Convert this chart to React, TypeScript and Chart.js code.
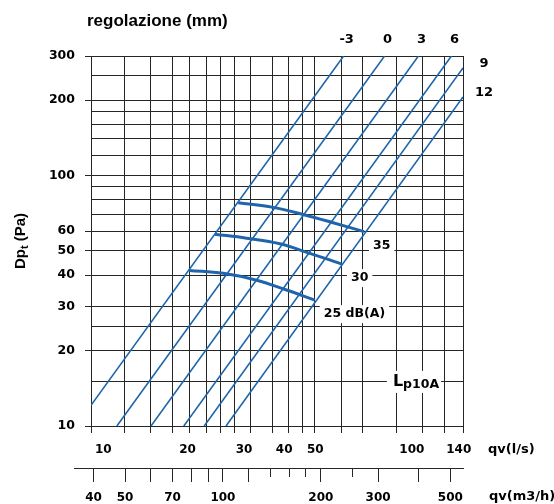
import React, { useEffect, useRef } from 'react';
import { Chart, registerables } from 'chart.js';

Chart.register(...registerables);

// ---- Regulation lines (mm): end points (qv in m3/h, Dpt in Pa)
const regLabels = ['-3', '0', '3', '6', '9', '12'];
const regQStart = [39.3, 47.2, 60.1, 75.8, 87.6, 102.2];
const regPStart = [12.1, 10, 10, 10, 10, 10];
const regQEnd = [235, 314, 399, 504, 547, 547];
const regPEnd = [300, 300, 300, 300, 269, 206];

// ---- Noise curves Lp10A (qv in m3/h, Dpt in Pa)
const noiseLabels = ['35', '30', '25 dB(A)'];
const noise35Q = [111.4, 142.7, 178.5, 218, 271.4];
const noise35P = [77.9, 74.6, 69.6, 64.8, 59.7];
const noise30Q = [94.5, 118.2, 149.6, 184.9, 232.3];
const noise30P = [58.3, 56.2, 53.4, 48.9, 44.3];
const noise25Q = [78.8, 100.2, 126.9, 156.8, 191.6];
const noise25P = [41.8, 40.7, 38.2, 34.9, 31.8];
const noiseQ = [noise35Q, noise30Q, noise25Q];
const noiseP = [noise35P, noise30P, noise25P];

// ---- Axes
const qvMin = 39.3; // m3/h at left edge
const qvMax = 547; // m3/h at right edge
const lsMin = 10; // l/s at left edge (upper scale)
const lsMax = 144.3; // l/s at right edge (upper scale)
const yMin = 10;
const yMax = 300;
const xGrid = [39.3, 49.8, 60, 69.9, 79.2, 88.7, 98.1, 108.3, 121.9, 141.9, 158.5, 176, 190.6, 231, 268.5, 341.5, 411.7, 480, 547];
const yGrid = [10, 15, 20, 25, 30, 40, 50, 60, 70, 80, 90, 100, 120, 140, 160, 180, 200, 250, 300];
const yLabels = [10, 20, 30, 40, 50, 60, 100, 200, 300];
const lsLabels = [10, 20, 30, 40, 50, 100, 140];
const m3Ticks = [40, 50, 60, 70, 80, 90, 100, 120, 140, 160, 180, 200, 250, 300, 400, 500];
const m3Labels = [40, 50, 70, 100, 200, 300, 500];
const m3ShortTicks = [140, 160, 180, 250];
const lpAnchorQ = 333;
const lpAnchorP = 15;

const BLUE = '#1f65ab';
const GRID = '#262626';
const NUM_FONT = '"DejaVu Sans", Verdana, sans-serif';
const TITLE_FONT = '"Liberation Sans", Arial, sans-serif';

const annotPlugin = {
  id: 'annot',
  afterDraw(chart: any) {
    const { ctx, chartArea: ca, scales } = chart;
    const xs = scales.x;
    const ys = scales.y;
    const xls = scales.xls;
    const xm3 = scales.xm3;
    ctx.save();
    ctx.fillStyle = '#000';

    // title
    ctx.font = `bold 17px ${TITLE_FONT}`;
    ctx.textAlign = 'left';
    ctx.textBaseline = 'middle';
    ctx.fillText('regolazione (mm)', ca.left - 4, ca.top - 35);

    // y title with subscript
    ctx.save();
    ctx.translate(20, (ca.top + ca.bottom) / 2);
    ctx.rotate(-Math.PI / 2);
    ctx.textBaseline = 'alphabetic';
    const f1 = `bold 15px ${TITLE_FONT}`;
    const f2 = `bold 11px ${TITLE_FONT}`;
    ctx.font = f1;
    const w1 = ctx.measureText('Dp').width;
    const w3 = ctx.measureText(' (Pa)').width;
    ctx.font = f2;
    const w2 = ctx.measureText('t').width;
    const x0 = -(w1 + w2 + w3) / 2;
    ctx.font = f1;
    ctx.fillText('Dp', x0, 5);
    ctx.font = f2;
    ctx.fillText('t', x0 + w1, 8);
    ctx.font = f1;
    ctx.fillText(' (Pa)', x0 + w1 + w2, 5);
    ctx.restore();

    // l/s labels
    ctx.font = `bold 12px ${NUM_FONT}`;
    ctx.textAlign = 'left';
    ctx.textBaseline = 'middle';
    lsLabels.forEach((v) => {
      const px = xls.getPixelForValue(v);
      const t = String(v);
      const w = ctx.measureText(t).width;
      const left = Math.max(px - w / 2, ca.left + 4);
      ctx.fillText(t, left, xls.top + 16.5);
    });
    ctx.font = `bold 13px ${NUM_FONT}`;
    ctx.fillText('qv(l/s)', ca.right + 25, xls.top + 16.5);
    ctx.fillText('qv(m3/h)', ca.right + 26, xm3.top + 28.5);

    // extension of lower axis line
    ctx.strokeStyle = GRID;
    ctx.lineWidth = 1;
    ctx.beginPath();
    ctx.moveTo(ca.left - 17, Math.round(xm3.top) + 0.5);
    ctx.lineTo(ca.left, Math.round(xm3.top) + 0.5);
    ctx.stroke();

    // regulation labels
    ctx.font = `bold 13px ${NUM_FONT}`;
    ctx.textAlign = 'center';
    regLabels.forEach((lab, i) => {
      const meta = chart.getDatasetMeta(i);
      const pt = meta.data[meta.data.length - 1];
      if (regPEnd[i] >= yMax) {
        ctx.fillText(lab, pt.x + 3, ca.top - 16);
      } else {
        ctx.fillText(lab, ca.right + 21, pt.y - 4);
      }
    });

    // noise labels with white boxes
    ctx.font = `bold 12.5px ${NUM_FONT}`;
    ctx.textAlign = 'left';
    noiseLabels.forEach((lab, k) => {
      const meta = chart.getDatasetMeta(regLabels.length + k);
      const pt = meta.data[meta.data.length - 1];
      const left = pt.x + 9;
      const mid = pt.y + 14;
      const w = ctx.measureText(lab).width;
      ctx.fillStyle = '#fff';
      ctx.fillRect(left - 4, mid - 9, w + 8, 18);
      ctx.fillStyle = '#000';
      ctx.fillText(lab, left, mid);
    });

    // Lp10A label
    const lx = xs.getPixelForValue(lpAnchorQ);
    const ly = ys.getPixelForValue(lpAnchorP);
    const fL = `bold 16px ${NUM_FONT}`;
    const fS = `bold 12.5px ${NUM_FONT}`;
    ctx.font = fL;
    const wL = ctx.measureText('L').width;
    ctx.font = fS;
    const wS = ctx.measureText('p10A').width;
    ctx.fillStyle = '#fff';
    ctx.fillRect(lx - 6, ly - 11, wL + wS + 8, 22);
    ctx.fillStyle = '#000';
    ctx.textBaseline = 'alphabetic';
    ctx.font = fL;
    ctx.fillText('L', lx, ly + 4);
    ctx.font = fS;
    ctx.fillText('p10A', lx + wL, ly + 6.5);

    ctx.restore();
  },
};

export default function App() {
  const ref = useRef<HTMLCanvasElement | null>(null);

  useEffect(() => {
    if (!ref.current) return;
    Chart.defaults.font.family = NUM_FONT;

    const regSets = regLabels.map((lab, i) => ({
      label: 'regolazione ' + lab,
      data: [
        { x: regQStart[i], y: regPStart[i] },
        { x: regQEnd[i], y: regPEnd[i] },
      ],
      borderColor: BLUE,
      borderWidth: 1.6,
      pointRadius: 0,
      tension: 0,
      xAxisID: 'x',
      yAxisID: 'y',
    }));
    const noiseSets = noiseLabels.map((lab, k) => ({
      label: 'Lp10A ' + lab,
      data: noiseQ[k].map((q, j) => ({ x: q, y: noiseP[k][j] })),
      borderColor: BLUE,
      borderWidth: 3,
      pointRadius: 0,
      tension: 0.4,
      xAxisID: 'x',
      yAxisID: 'y',
    }));

    const chart = new Chart(ref.current, {
      type: 'line',
      data: { datasets: [...regSets, ...noiseSets] as any },
      plugins: [annotPlugin],
      options: {
        responsive: false,
        animation: false,
        events: [],
        layout: { padding: { left: 0, right: 91, top: 56, bottom: 0 } },
        plugins: { legend: { display: false }, tooltip: { enabled: false } },
        scales: {
          x: {
            type: 'logarithmic',
            position: 'bottom',
            weight: 0,
            min: qvMin,
            max: qvMax,
            afterBuildTicks: (s: any) => {
              s.ticks = xGrid.map((v) => ({ value: v }));
            },
            afterFit: (s: any) => {
              s.height = 7;
            },
            ticks: { display: false },
            grid: { color: GRID, lineWidth: 1, tickLength: 7, drawTicks: true },
            border: { display: true, color: GRID },
          },
          xls: {
            type: 'logarithmic',
            position: 'bottom',
            weight: 1,
            min: lsMin,
            max: lsMax,
            afterBuildTicks: (s: any) => {
              s.ticks = lsLabels.map((v) => ({ value: v }));
            },
            afterFit: (s: any) => {
              s.height = 35;
            },
            ticks: { display: false },
            grid: { display: false },
            border: { display: false },
          },
          xm3: {
            type: 'logarithmic',
            position: 'bottom',
            weight: 2,
            min: qvMin,
            max: qvMax,
            afterBuildTicks: (s: any) => {
              s.ticks = m3Ticks.map((v) => ({ value: v }));
            },
            afterFit: (s: any) => {
              s.height = 36;
            },
            ticks: {
              autoSkip: false,
              maxRotation: 0,
              minRotation: 0,
              padding: 9,
              color: '#000',
              font: { family: NUM_FONT, size: 12, weight: 'bold' },
              callback: (v: any) => (m3Labels.includes(Number(v)) ? String(v) : ''),
            },
            grid: {
              drawOnChartArea: false,
              tickLength: 14,
              color: GRID,
              tickBorderDash: (c: any) => (c.tick && m3ShortTicks.includes(c.tick.value) ? [8, 30] : []),
            },
            border: { display: true, color: GRID },
          },
          y: {
            type: 'logarithmic',
            position: 'left',
            min: yMin,
            max: yMax,
            afterBuildTicks: (s: any) => {
              s.ticks = yGrid.map((v) => ({ value: v }));
            },
            afterFit: (s: any) => {
              s.width = 91;
            },
            ticks: {
              autoSkip: false,
              padding: 10,
              color: '#000',
              font: { family: NUM_FONT, size: 12.5, weight: 'bold' },
              callback: (v: any) => (yLabels.includes(Number(v)) ? String(v) : ''),
            },
            grid: {
              color: GRID,
              lineWidth: 1,
              tickLength: 6,
              tickColor: (c: any) => (c.tick && yLabels.includes(c.tick.value) ? GRID : 'rgba(0,0,0,0)'),
            },
            border: { display: true, color: GRID },
          },
        },
      } as any,
    });
    return () => chart.destroy();
  }, []);

  return (
    <div style={{ position: 'fixed', left: 0, top: 0, width: 554, height: 504, background: '#fff' }}>
      <canvas ref={ref} width={554} height={504} style={{ display: 'block', width: 554, height: 504 }} />
    </div>
  );
}
